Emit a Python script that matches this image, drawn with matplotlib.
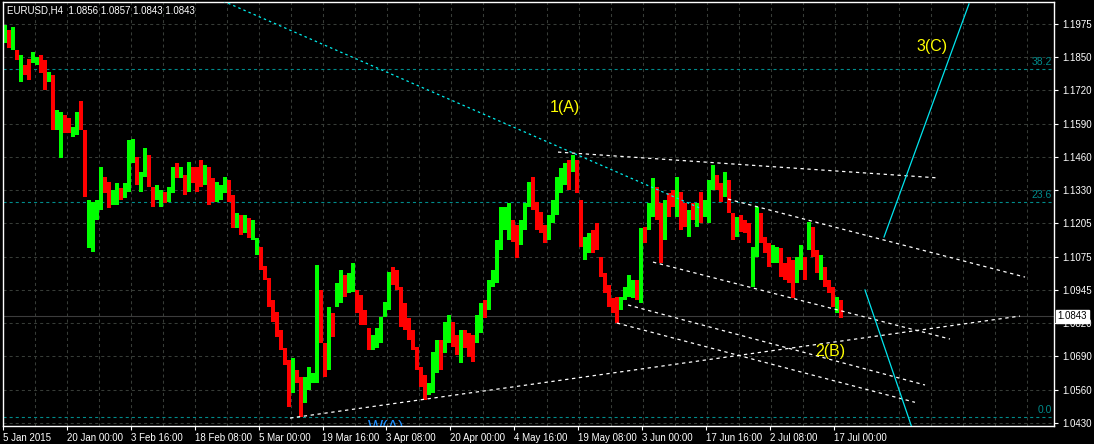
import numpy as np
import matplotlib
matplotlib.use("Agg")
import matplotlib.pyplot as plt

# EURUSD H4 chart, sampled in slots of 4 bars (16 hours); G = up, R = down
highs = [
    1.1971, 1.1952, 1.1963, 1.1874, 1.1855, 1.1816, 1.1840, 1.1867, 1.1847, 1.1855,
    1.1836, 1.1789, 1.1778, 1.1642, 1.1634, 1.1623, 1.1611, 1.1576, 1.1634, 1.1677,
    1.1565, 1.1293, 1.1286, 1.1293, 1.1421, 1.1383, 1.1363, 1.1332, 1.1359, 1.1340,
    1.1359, 1.1526, 1.1530, 1.1460, 1.1402, 1.1495, 1.1468, 1.1344, 1.1352, 1.1332,
    1.1324, 1.1344, 1.1421, 1.1437, 1.1421, 1.1390, 1.1441, 1.1421, 1.1421, 1.1448,
    1.1429, 1.1421, 1.1379, 1.1363, 1.1352, 1.1383, 1.1371, 1.1313, 1.1243, 1.1235,
    1.1235, 1.1224, 1.1216, 1.1146, 1.1111, 1.1038, 1.0991, 1.0906, 1.0860, 1.0790,
    1.0720, 1.0674, 1.0682, 1.0635, 1.0608, 1.0608, 1.0647, 1.0623, 1.1042, 1.0945,
    1.0740, 1.0879, 1.0856, 1.0972, 1.1022, 1.1003, 1.1011, 1.1049, 1.0945, 1.0926,
    1.0867, 1.0798, 1.0771, 1.0798, 1.0840, 1.0898, 1.1015, 1.1034, 1.1022, 1.0957,
    1.0895, 1.0836, 1.0790, 1.0724, 1.0647, 1.0616, 1.0585, 1.0705, 1.0751, 1.0751,
    1.0821, 1.0848, 1.0821, 1.0771, 1.0790, 1.0790, 1.0778, 1.0771, 1.0848, 1.0895,
    1.0906, 1.0984, 1.1022, 1.1139, 1.1266, 1.1266, 1.1282, 1.1216, 1.1197, 1.1216,
    1.1282, 1.1363, 1.1383, 1.1286, 1.1247, 1.1197, 1.1235, 1.1293, 1.1383, 1.1417,
    1.1437, 1.1448, 1.1468, 1.1448, 1.1293, 1.1150, 1.1166, 1.1177, 1.1204, 1.1073,
    1.1011, 1.0964, 1.0914, 1.0918, 1.0918, 1.0957, 1.1003, 1.0984, 1.0984, 1.1185,
    1.1189, 1.1282, 1.1379, 1.1344, 1.1282, 1.1293, 1.1321, 1.1332, 1.1383, 1.1324,
    1.1282, 1.1255, 1.1282, 1.1282, 1.1324, 1.1293, 1.1371, 1.1429, 1.1390, 1.1359,
    1.1402, 1.1371, 1.1243, 1.1228, 1.1235, 1.1216, 1.1204, 1.1111, 1.1266, 1.1243,
    1.1150, 1.1127, 1.1119, 1.1111, 1.1108, 1.1049, 1.1073, 1.1061, 1.1073, 1.1119,
    1.1073, 1.1208, 1.1189, 1.1100, 1.1080, 1.1034, 1.0984, 1.0957, 1.0918, 1.0906,
]
lows = [
    1.1902, 1.1882, 1.1874, 1.1836, 1.1750, 1.1778, 1.1758, 1.1824, 1.1816, 1.1785,
    1.1719, 1.1750, 1.1565, 1.1565, 1.1456, 1.1553, 1.1553, 1.1537, 1.1545, 1.1565,
    1.1305, 1.1108, 1.1092, 1.1216, 1.1255, 1.1321, 1.1262, 1.1274, 1.1274, 1.1293,
    1.1301, 1.1324, 1.1437, 1.1352, 1.1324, 1.1383, 1.1344, 1.1266, 1.1293, 1.1266,
    1.1282, 1.1286, 1.1321, 1.1379, 1.1379, 1.1313, 1.1324, 1.1359, 1.1324, 1.1344,
    1.1352, 1.1274, 1.1286, 1.1286, 1.1293, 1.1321, 1.1286, 1.1185, 1.1185, 1.1158,
    1.1166, 1.1146, 1.1139, 1.1080, 1.1022, 1.0984, 1.0879, 1.0821, 1.0763, 1.0712,
    1.0654, 1.0492, 1.0546, 1.0585, 1.0453, 1.0507, 1.0558, 1.0585, 1.0585, 1.0740,
    1.0608, 1.0635, 1.0763, 1.0879, 1.0895, 1.0918, 1.0933, 1.0937, 1.0856, 1.0809,
    1.0809, 1.0712, 1.0712, 1.0720, 1.0740, 1.0840, 1.0867, 1.0964, 1.0945, 1.0802,
    1.0790, 1.0751, 1.0712, 1.0635, 1.0569, 1.0519, 1.0538, 1.0546, 1.0623, 1.0635,
    1.0701, 1.0740, 1.0724, 1.0693, 1.0662, 1.0720, 1.0685, 1.0666, 1.0740, 1.0778,
    1.0836, 1.0867, 1.0957, 1.0972, 1.1100, 1.1177, 1.1139, 1.1131, 1.1069, 1.1119,
    1.1177, 1.1266, 1.1255, 1.1177, 1.1166, 1.1127, 1.1139, 1.1204, 1.1235, 1.1321,
    1.1352, 1.1332, 1.1402, 1.1321, 1.1111, 1.1061, 1.1088, 1.1088, 1.1100, 1.0995,
    1.0933, 1.0879, 1.0856, 1.0817, 1.0867, 1.0906, 1.0918, 1.0914, 1.0906, 1.0895,
    1.1127, 1.1177, 1.1228, 1.1216, 1.1049, 1.1139, 1.1228, 1.1266, 1.1228, 1.1177,
    1.1189, 1.1150, 1.1216, 1.1189, 1.1204, 1.1228, 1.1204, 1.1332, 1.1332, 1.1286,
    1.1305, 1.1243, 1.1139, 1.1150, 1.1170, 1.1166, 1.1127, 1.0957, 1.1073, 1.1127,
    1.1088, 1.1034, 1.1049, 1.1049, 1.0995, 1.0984, 1.0972, 1.0914, 1.0972, 1.1022,
    1.0984, 1.1100, 1.1073, 1.1011, 1.0984, 1.0957, 1.0933, 1.0879, 1.0856, 1.0836,
]
bar_dirs = (
    "GRGRGRRGGR" "RGRGGRRGGR" "RGGGGRRGGR" "GGGRGGRRGG" "RGGRGRGRRR"
    "GRRGGGRRGR" "GRGGRRRRRR" "RRGRRGGGGR" "RGRGGRGGRR" "RRGGGGGRRR"
    "RRRRRRGGGR" "GGRRGRRRGG" "RGGGGGGRRG" "GGRRRRGGGG" "GRGRRGGRRR"
    "RRRRGGGGRG" "RGGRRGRRGR" "RGRGRGGGRR" "GRRGRRRGGR" "RRGGRRRRGG"
    "RGRRGRRRGR"
)

header = "EURUSD,H4  1.0856 1.0857 1.0843 1.0843"
last_price = 1.0843

price_ticks = np.linspace(1.0430, 1.1975, 13)
price_labels = ["1.0430", "1.0560", "1.0690", "1.0820", "1.0945", "1.1075", "1.1205",
                "1.1330", "1.1460", "1.1590", "1.1720", "1.1850", "1.1975"]
time_labels = ["5 Jan 2015", "20 Jan 00:00", "3 Feb 16:00", "18 Feb 08:00", "5 Mar 00:00",
               "19 Mar 16:00", "3 Apr 08:00", "20 Apr 00:00", "4 May 16:00", "19 May 08:00",
               "3 Jun 00:00", "17 Jun 16:00", "2 Jul 08:00", "17 Jul 00:00"]

fib_names = ["0.0", "23.6", "38.2"]
fib_prices = [1.0455, 1.1287, 1.1802]

# drawn objects: (bar index, price) end points
white_lines = [
    ((555, 1.1479), (935, 1.1379)),
    ((725, 1.1297), (1022, 1.0995)),
    ((650, 1.1053), (947, 1.0755)),
    ((625, 1.0887), (922, 1.0577)),
    ((614, 1.0817), (912, 1.0510)),
    ((287, 1.0449), (1017, 1.0844)),
]
cyan_dotted = ((220, 1.2064), (697, 1.1262))
cyan_solid = [((881, 1.1150), (966, 1.2053)), ((862, 1.0945), (910, 1.0400))]
wave_labels = [("1(A)", 562, 1.1650), ("3(C)", 929, 1.1886), ("2(B)", 827, 1.0705)]

plt.rcParams["lines.scale_dashes"] = False
plt.rcParams["font.family"] = ["Liberation Sans", "DejaVu Sans"]

fig = plt.figure(figsize=(10.94, 4.44), dpi=100, facecolor="black")
ax = fig.add_axes([3 / 1094, 18 / 444, 1051 / 1094, 424 / 444], facecolor="black")
ax.set_xlim(0, 1051)
ax.set_ylim(1.04183, 1.20602)

grid_kw = dict(color="#373c37", linewidth=0.75, linestyle=(0, (2.2, 2.2)), zorder=0)
for p in price_ticks:
    ax.axhline(p, **grid_kw)
for gx in np.arange(32, 1051, 32):
    ax.axvline(gx, **grid_kw)

for name, p in zip(fib_names, fib_prices):
    ax.axhline(p, color="#008b8b", linewidth=0.8, linestyle=(0, (2.2, 2.2)), zorder=1)
    ax.text(1049, p + 0.0007, name, color="#008b8b", fontsize=7.5, ha="right", va="bottom")

ax.axhline(last_price, color="#3c3c3c", linewidth=0.8, zorder=1)

# candles
xs = np.arange(len(highs)) * 4 + 2
hi = np.array(highs)
lo = np.array(lows)
cols = ["#00ff00" if d == "G" else "#ff0000" for d in bar_dirs]
ax.bar(xs, hi - lo, bottom=lo, width=4, color=cols, linewidth=0, zorder=2)

for (x0, p0), (x1, p1) in white_lines:
    ax.plot([x0, x1], [p0, p1], color="white", linewidth=0.9,
            linestyle=(0, (2.4, 2.6)), zorder=3)
(x0, p0), (x1, p1) = cyan_dotted
ax.plot([x0, x1], [p0, p1], color="#00eeee", linewidth=0.9,
        linestyle=(0, (1.8, 2.2)), zorder=3)
for (x0, p0), (x1, p1) in cyan_solid:
    ax.plot([x0, x1], [p0, p1], color="#00e5ee", linewidth=0.9, zorder=3)

for txt, x, p in wave_labels:
    ax.text(x, p, txt, color="#ffff00", fontsize=11.5, ha="center", va="center", zorder=4)
# wave label sitting on the bottom edge, mostly cut off
ax.text(383, 1.0384, "W(A)", color="#1e90ff", fontsize=11.5, ha="center", va="bottom",
        zorder=4, clip_on=True)

ax.text(0.004, 0.979, header, transform=ax.transAxes, color="white", fontsize=7,
        ha="left", va="center", zorder=5)

# axes
for s in ax.spines.values():
    s.set_color("white")
    s.set_linewidth(1)
ax.yaxis.tick_right()
ax.set_yticks(price_ticks, price_labels)
ax.set_xticks(np.arange(len(time_labels)) * 63.9, time_labels)
for lab in ax.get_xticklabels():
    lab.set_horizontalalignment("left")
ax.tick_params(axis="both", colors="white", labelsize=7, length=3, width=0.8, direction="out")
ax.tick_params(axis="y", pad=3)
ax.tick_params(axis="x", pad=2)

ax.text(1.0035, last_price, f"{last_price:.4f}", transform=ax.get_yaxis_transform(),
        color="black", fontsize=7, ha="left", va="center", clip_on=False, zorder=10,
        bbox=dict(facecolor="white", edgecolor="white", boxstyle="square,pad=0.15"))

fig.savefig("out.png", dpi=100, facecolor="black")
